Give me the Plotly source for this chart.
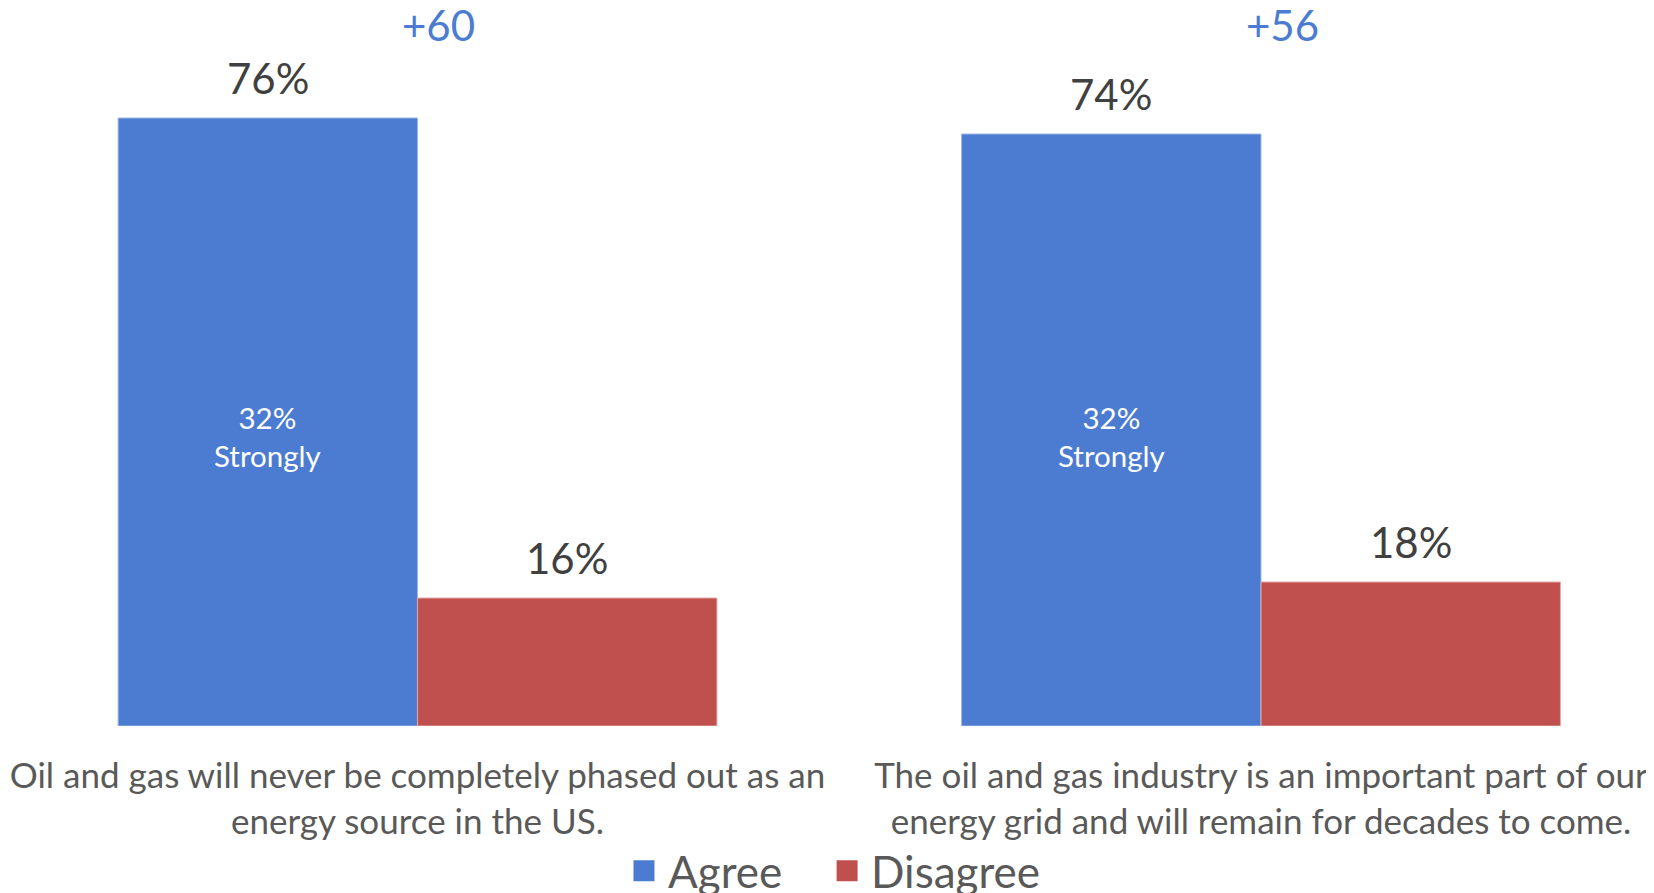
import plotly.graph_objects as go

# survey statements and shares (%)
statements = [
    "Oil and gas will never be completely phased out as an<br>energy source in the US.",
    "The oil and gas industry is an important part of our<br>energy grid and will remain for decades to come.",
]
agree = [76, 74]
disagree = [16, 18]
strongly = [32, 32]

BLUE = "#4B7CD2"
RED = "#C0504D"
FONT = "Lato"

bargap = 0.29
bar_w = (1 - bargap) / 2
x = list(range(len(statements)))
STRONG_Y = 36.2  # the "Strongly" boxes sit at the same height in both bars

fig = go.Figure()

fig.add_trace(go.Bar(x=x, y=agree, name="Agree", marker=dict(color=BLUE, line=dict(color="#9fb8e6", width=1)),
                     showlegend=False, hoverinfo="y"))
fig.add_trace(go.Bar(x=x, y=disagree, name="Disagree", marker=dict(color=RED, line=dict(color="#e3a9a8", width=1)),
                     showlegend=False, hoverinfo="y"))

# legend proxies (bigger squares than the bar legend gives), one legend each for spacing
for name, col, leg in [("Agree", BLUE, "legend"), ("Disagree", RED, "legend2")]:
    fig.add_trace(go.Scatter(x=[None], y=[None], mode="markers", name=name, legend=leg,
                             marker=dict(symbol="square", size=16, color=col, line=dict(color=col, width=5))))

annotations = []
for i in x:
    # value labels above bars
    annotations.append(dict(x=i - bar_w / 2, y=agree[i], text=f"{agree[i]}%", showarrow=False,
                            yanchor="bottom", yshift=13, font=dict(size=42, color="#404040", family=FONT)))
    annotations.append(dict(x=i + bar_w / 2, y=disagree[i], text=f"{disagree[i]}%", showarrow=False,
                            yanchor="bottom", yshift=13, font=dict(size=42, color="#404040", family=FONT)))
    # inside label
    annotations.append(dict(x=i - bar_w / 2, y=STRONG_Y, text=f"{strongly[i]}%<br>Strongly", showarrow=False,
                            yanchor="middle", font=dict(size=29.5, color="white", family=FONT)))
    # net difference
    annotations.append(dict(x=i + 0.025, y=0.976, yref="paper", text=f"+{agree[i] - disagree[i]}", showarrow=False,
                            yanchor="middle", font=dict(size=42, color=BLUE, family=FONT)))

legend_style = dict(orientation="h", xanchor="left", y=-0.202, yanchor="middle", bgcolor="rgba(0,0,0,0)",
                    font=dict(size=44, color="#595959", family=FONT), itemwidth=38)

fig.update_layout(
    width=1654, height=893,
    margin=dict(l=0, r=0, t=0, b=175, autoexpand=False),
    paper_bgcolor="white", plot_bgcolor="white",
    barmode="group", bargap=bargap, bargroupgap=0,
    font=dict(family=FONT, color="#595959"),
    xaxis=dict(range=[-0.4855, 1.4754], tickvals=x, ticktext=statements, showgrid=False, zeroline=False,
               showline=False, tickfont=dict(size=35, color="#595959", family=FONT), ticks="",
               ticklabelstandoff=26, ticklabeloverflow="allow"),
    yaxis=dict(range=[0, 89.75], visible=False),
    legend=dict(x=0.370, **legend_style),
    legend2=dict(x=0.4928, **legend_style),
    annotations=annotations,
    showlegend=True,
)

fig.write_html("out.html")
